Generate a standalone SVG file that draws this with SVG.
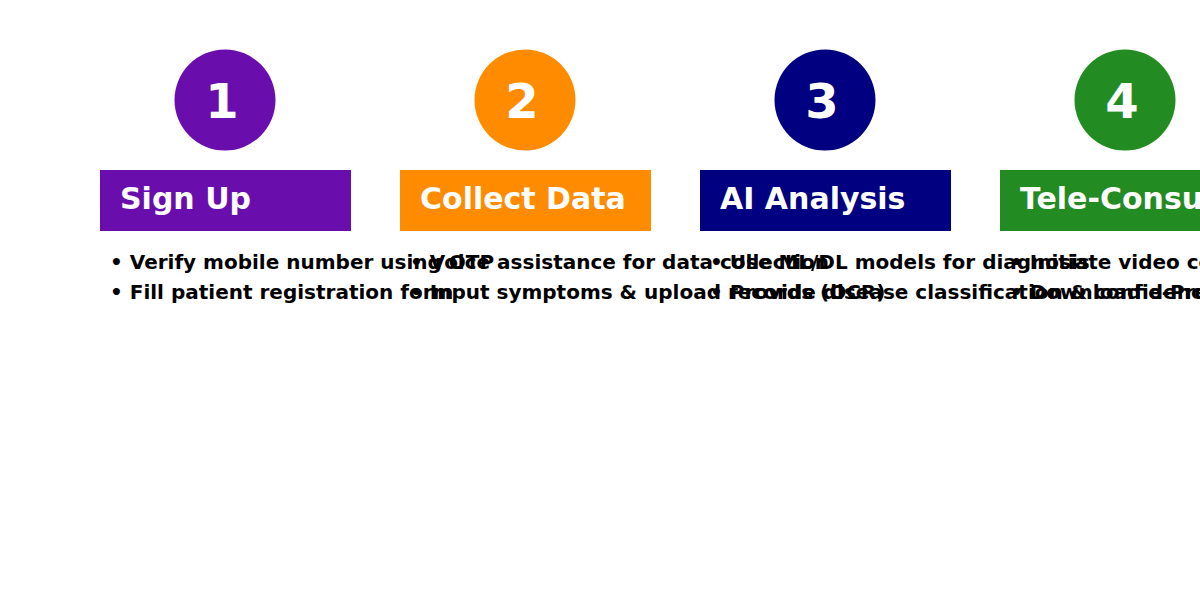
<svg xmlns="http://www.w3.org/2000/svg" width="1200" height="600" viewBox="0 0 1200 600">
<style>
.num{font-family:"DejaVu Sans",sans-serif;font-weight:bold;font-size:48px;fill:#fff;text-anchor:middle}
.title{font-family:"DejaVu Sans",sans-serif;font-weight:bold;font-size:30px;fill:#fff}
.item{font-family:"DejaVu Sans",sans-serif;font-weight:bold;font-size:20px;fill:#000}
</style>
<rect width="1200" height="600" fill="#fff"/>
<g id="step1">
<circle cx="225" cy="100" r="50.5" fill="#6A0DAD"/>
<text class="num" x="222" y="118">1</text>
<rect x="100" y="170" width="251" height="61" fill="#6A0DAD"/>
<text class="title" x="120" y="209">Sign Up</text>
<text class="item" x="110" y="269">• Verify mobile number using OTP</text>
<text class="item" x="110" y="299">• Fill patient registration form</text>
</g>
<g id="step2">
<circle cx="525" cy="100" r="50.5" fill="#FF8C00"/>
<text class="num" x="522" y="118">2</text>
<rect x="400" y="170" width="251" height="61" fill="#FF8C00"/>
<text class="title" x="420" y="209">Collect Data</text>
<text class="item" x="410" y="269">• Voice assistance for data collection</text>
<text class="item" x="410" y="299">• Input symptoms &amp; upload records (OCR)</text>
</g>
<g id="step3">
<circle cx="825" cy="100" r="50.5" fill="#000080"/>
<text class="num" x="822" y="118">3</text>
<rect x="700" y="170" width="251" height="61" fill="#000080"/>
<text class="title" x="720" y="209">AI Analysis</text>
<text class="item" x="710" y="269">• Use ML/DL models for diagnosis</text>
<text class="item" x="710" y="299">• Provide disease classification &amp; confidence</text>
</g>
<g id="step4">
<circle cx="1125" cy="100" r="50.5" fill="#228B22"/>
<text class="num" x="1122" y="118">4</text>
<rect x="1000" y="170" width="251" height="61" fill="#228B22"/>
<text class="title" x="1020" y="209">Tele-Consultation</text>
<text class="item" x="1010" y="269">• Initiate video consultation</text>
<text class="item" x="1010" y="299">• Download e-Prescription</text>
</g>
<g id="connectors"/>
</svg>
